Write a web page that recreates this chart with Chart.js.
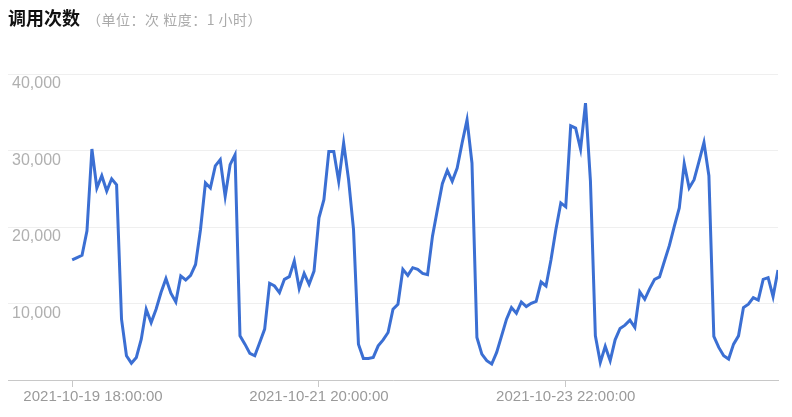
<!DOCTYPE html>
<html>
<head>
<meta charset="utf-8">
<script src="https://cdn.jsdelivr.net/npm/chart.js@4"></script>
<style>
  html, body { margin: 0; padding: 0; background: #fff; }
  #wrap { position: relative; width: 792px; height: 417px; }
  #head {
    position: absolute; left: 8px; top: 5px; line-height: 24px; white-space: nowrap;
    font-family: "Noto Sans CJK SC", "Liberation Sans", sans-serif;
  }
  #head .t { font-size: 18px; font-weight: bold; color: #111; }
  #head .s { font-size: 14px; color: #aaa; margin-left: 7px; letter-spacing: 0.5px; }
</style>
</head>
<body>
<div id="wrap">
  <div id="head"><span class="t">调用次数</span><span class="s">（单位：次 粒度：1 小时）</span></div>
  <canvas id="calls-chart" width="792" height="417"></canvas>
</div>
<script>
// hourly calls, starting 2021-10-19 18:00:00
const calls = [
  15700, 16000, 16300, 19500, 30200, 25100, 26700, 24700, 26300, 25500,
  7950, 3170, 2200, 2950, 5340, 9250, 7500, 9250, 11430, 13250,
  11340, 10200, 13600, 13070, 13680, 15100, 19670, 25760, 25100, 28000,
  28800, 24000, 28150, 29450, 5770, 4690, 3480, 3170, 4910, 6650,
  12640, 12290, 11430, 13160, 13510, 15550, 11950, 13940, 12510, 14240,
  21200, 23580, 29880, 29880, 25970, 30970, 26190, 19680, 4690, 2820,
  2820, 2950, 4470, 5250, 6210, 9250, 9900, 14460, 13680, 14680,
  14460, 13940, 13770, 18800, 22280, 25670, 27400, 25970, 27710, 30970,
  34000, 28360, 5560, 3390, 2520, 2080, 3600, 5770, 7950, 9470,
  8730, 10200, 9600, 10030, 10290, 12810, 12290, 15680, 19680, 23150,
  22630, 33230, 32920, 30190, 36190, 26000, 5770, 2300, 4390, 2520,
  5250, 6730, 7170, 7820, 6860, 11510, 10550, 11950, 13160, 13470,
  15550, 17590, 20110, 22500, 28280, 25100, 26190, 28580, 31050, 26710,
  5690, 4260, 3170, 2740, 4690, 5770, 9470, 9900, 10770, 10460,
  13160, 13380, 10900, 14370
];
const tickHours = [0, 50, 100];
const tickLabels = ['2021-10-19 18:00:00', '2021-10-21 20:00:00', '2021-10-23 22:00:00'];
const yTicks = [0, 10000, 20000, 30000, 40000];

const points = calls.map((v, i) => ({ x: i, y: v }));

new Chart(document.getElementById('calls-chart'), {
  type: 'line',
  data: {
    datasets: [{
      data: points,
      borderColor: '#3b6fd3',
      borderWidth: 3,
      pointRadius: 0,
      tension: 0,
      fill: false
    }]
  },
  options: {
    responsive: false,
    animation: false,
    layout: { padding: { top: 74, right: 14, bottom: 10, left: 0 } },
    plugins: { legend: { display: false }, tooltip: { enabled: false } },
    scales: {
      x: {
        type: 'linear',
        min: -13,
        max: 143,
        afterBuildTicks: (scale) => {
          scale.ticks = tickHours.map(v => ({ value: v }));
        },
        afterFit: (scale) => {
          // labels may hang over the edges, don't shrink the plot for them
          scale.paddingLeft = 0;
          scale.paddingRight = 0;
        },
        grid: { drawOnChartArea: false, drawTicks: true, tickLength: 7, color: '#c8c8c8' },
        border: { color: '#c8c8c8' },
        ticks: {
          autoSkip: false,
          maxRotation: 0,
          padding: 1,
          color: '#9a9a9a',
          font: { family: 'Liberation Sans', size: 15 },
          callback: (v) => {
            const k = tickHours.indexOf(v);
            if (k < 0) return '';
            return k === 0 ? '          ' + tickLabels[k] : tickLabels[k];
          }
        }
      },
      y: {
        min: 0,
        max: 40000,
        afterBuildTicks: (scale) => {
          scale.ticks = yTicks.map(v => ({ value: v }));
        },
        afterFit: (scale) => {
          scale.paddingTop = 0;
          scale.paddingBottom = 0;
        },
        grid: { drawTicks: false, color: '#efefef', lineWidth: 1 },
        border: { display: false },
        ticks: {
          mirror: true,
          padding: 4,
          labelOffset: 10,
          color: '#b0b0b0',
          font: { family: 'Liberation Sans', size: 16 },
          callback: (v) => v === 0 ? '' : v.toLocaleString('en-US')
        }
      }
    }
  }
});
</script>
</body>
</html>
